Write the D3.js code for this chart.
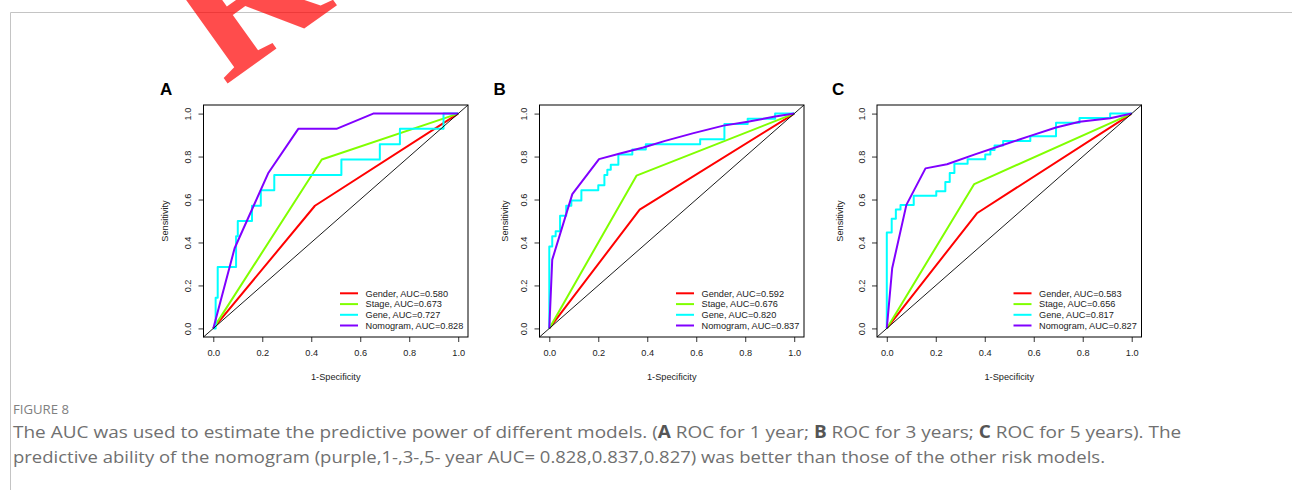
<!DOCTYPE html>
<html><head><meta charset="utf-8">
<script src="https://cdn.jsdelivr.net/npm/d3@7"></script>
<style>
html,body{margin:0;padding:0;background:#fff;}
svg{display:block;}
</style></head><body>
<script>
// ---------- data ----------
const panelLabels = ["A", "B", "C"];
const modelNames = ["Gender", "Stage", "Gene", "Nomogram"];
const modelColors = ["#FF0000", "#80FF00", "#00FFFF", "#8000FF"];
const aucA = [0.580, 0.673, 0.727, 0.828];
const aucB = [0.592, 0.676, 0.820, 0.837];
const aucC = [0.583, 0.656, 0.817, 0.827];
const tickValues = [0, 0.2, 0.4, 0.6, 0.8, 1.0];

// ROC points: [1-Specificity, Sensitivity]
const genderA = [[0,0],[0.415,0.571],[1,1]];
const stageA = [[0,0],[0.443,0.786],[1,1]];
const geneA = [[0,0],[0.0096,0.143],[0.018,0.286],[0.093,0.429],[0.1,0.5],[0.158,0.571],[0.194,0.643],[0.249,0.714],[0.523,0.786],[0.68,0.857],[0.762,0.929],[0.94,1],[1,1]];
const nomogramA = [[0,0],[0.087,0.373],[0.224,0.722],[0.347,0.929],[0.503,0.929],[0.653,1],[1,1]];

const genderB = [[0,0],[0.369,0.553],[1,1]];
const stageB = [[0,0],[0.356,0.711],[1,1]];
const geneB = [[0,0],[0,0.381],[0.012,0.429],[0.026,0.452],[0.044,0.524],[0.069,0.571],[0.09,0.595],[0.131,0.643],[0.2,0.667],[0.225,0.714],[0.237,0.738],[0.251,0.762],[0.282,0.810],[0.339,0.833],[0.394,0.857],[0.616,0.881],[0.715,0.952],[0.81,0.976],[0.922,1],[1,1]];
const nomogramB = [[0,0],[0.012,0.32],[0.094,0.625],[0.203,0.788],[0.285,0.813],[0.384,0.842],[0.473,0.873],[0.589,0.909],[0.711,0.944],[0.81,0.962],[0.922,0.986],[1,1]];

const genderC = [[0,0],[0.368,0.536],[1,1]];
const stageC = [[0,0],[0.357,0.672],[1,1]];
const geneC = [[0,0],[0,0.447],[0.02,0.511],[0.037,0.553],[0.056,0.574],[0.11,0.617],[0.202,0.638],[0.239,0.681],[0.257,0.723],[0.276,0.766],[0.33,0.787],[0.402,0.809],[0.423,0.830],[0.44,0.851],[0.475,0.872],[0.586,0.894],[0.691,0.957],[0.787,0.979],[0.912,1],[1,1]];
const nomogramC = [[0,0],[0.022,0.28],[0.08,0.575],[0.158,0.745],[0.246,0.764],[0.36,0.81],[0.474,0.854],[0.583,0.895],[0.691,0.935],[0.787,0.962],[0.912,0.978],[1,1]];

const panelCurves = [
  [genderA, stageA, geneA, nomogramA],
  [genderB, stageB, geneB, nomogramB],
  [genderC, stageC, geneC, nomogramC]
];
const panelAucs = [aucA, aucB, aucC];

// ---------- layout ----------
const W = 1292, H = 490;
const boxLefts = [203.5, 539.5, 877];
const letterX = [160, 493.5, 832];
const ytitleX = [165, 505, 839.5];
const boxW = 264.5, boxTop = 105, boxH = 232;
const font = "'Liberation Sans', Arial, sans-serif";
const fs = 9.2;

const svg = d3.select("body").append("svg").attr("width", W).attr("height", H);
svg.append("rect").attr("width", W).attr("height", H).attr("fill", "#fff");

// page frame
svg.append("path").attr("d", `M10.5,${H} V12.5 H${W}`).attr("fill", "none")
  .attr("stroke", "#c4c4c4").attr("stroke-width", 1);

panelLabels.forEach((lab, i) => {
  const L = boxLefts[i];
  const x = d3.scaleLinear().domain([-0.04, 1.04]).range([L, L + boxW]);
  const y = d3.scaleLinear().domain([-0.04, 1.04]).range([boxTop + boxH, boxTop]);
  const g = svg.append("g");

  // axes
  const ax = g.append("g").attr("transform", `translate(0,${boxTop + boxH})`)
    .call(d3.axisBottom(x).tickValues(tickValues).tickFormat(d3.format(".1f")).tickSize(5).tickSizeOuter(0));
  ax.select(".domain").remove();
  ax.selectAll("line").attr("stroke", "#000").attr("stroke-width", 0.8);
  ax.selectAll("text").attr("y", 16).attr("dy", "0.35em").attr("font-family", font).attr("font-size", fs).attr("fill", "#222");

  const ay = g.append("g").attr("transform", `translate(${L},0)`)
    .call(d3.axisLeft(y).tickValues(tickValues).tickFormat(d3.format(".1f")).tickSize(5).tickSizeOuter(0));
  ay.select(".domain").remove();
  ay.selectAll("line").attr("stroke", "#000").attr("stroke-width", 0.8);
  ay.selectAll("text").attr("x", null).attr("dy", null)
    .attr("transform", "translate(-15.5,0) rotate(-90)")
    .attr("text-anchor", "middle").attr("dy", "0.35em")
    .attr("font-family", font).attr("font-size", fs).attr("fill", "#222");

  // axis titles
  g.append("text").attr("x", (x(0) + x(1)) / 2).attr("y", 377).attr("dy", "0.35em")
    .attr("text-anchor", "middle").attr("font-family", font).attr("font-size", fs).attr("fill", "#222")
    .text("1-Specificity");
  g.append("text").attr("transform", `translate(${ytitleX[i]},${boxTop + boxH / 2}) rotate(-90)`)
    .attr("dy", "0.35em").attr("text-anchor", "middle")
    .attr("font-family", font).attr("font-size", fs).attr("fill", "#222").text("Sensitivity");

  // panel letter
  g.append("text").attr("x", letterX[i]).attr("y", 94.5).attr("font-family", font)
    .attr("font-weight", "bold").attr("font-size", 17).attr("fill", "#000").text(lab);

  // curves
  const curves = panelCurves[i];
  curves.forEach((pts, k) => {
    const line = d3.line().x(d => x(d[0])).y(d => y(d[1]))
      .curve(k === 2 ? d3.curveStepAfter : d3.curveLinear);
    g.append("path").datum(pts).attr("d", line).attr("fill", "none")
      .attr("stroke", modelColors[k]).attr("stroke-width", 2).attr("stroke-linejoin", "round");
  });

  // diagonal reference
  g.append("path").datum([[-0.04, -0.04], [1.04, 1.04]])
    .attr("d", d3.line().x(d => x(d[0])).y(d => y(d[1])))
    .attr("stroke", "#000").attr("stroke-width", 0.9).attr("fill", "none");

  // box
  g.append("rect").attr("x", L).attr("y", boxTop).attr("width", boxW).attr("height", boxH)
    .attr("fill", "none").attr("stroke", "#000").attr("stroke-width", 1);

  // legend
  const R = L + boxW;
  const legY = [293.3, 304.1, 314.8, 325.5];
  modelNames.forEach((nm, k) => {
    g.append("line").attr("x1", R - 128).attr("x2", R - 110).attr("y1", legY[k]).attr("y2", legY[k])
      .attr("stroke", modelColors[k]).attr("stroke-width", 2);
    g.append("text").attr("x", R - 102.5).attr("y", legY[k]).attr("dy", "0.35em")
      .attr("font-family", font).attr("font-size", fs).attr("fill", "#222")
      .text(`${nm}, AUC=${panelAucs[i][k].toFixed(3)}`);
  });
});

// watermark
svg.append("text").attr("transform", "translate(224,86) rotate(-35.6)")
  .attr("font-family", "'Liberation Serif', 'DejaVu Serif', serif").attr("font-weight", "bold")
  .attr("font-size", 190).attr("fill", "#ff0000").attr("fill-opacity", 0.7).text("R");

// caption
const capFont = "'Open Sans', 'Noto Sans', sans-serif";
const capColor = "#707070";
function fitText(sel, targetW, x0) {
  const w = sel.node().getComputedTextLength();
  const s = targetW / w;
  sel.attr("transform", `translate(${x0},0) scale(${s},1)`);
  return s;
}
const fig = svg.append("text").attr("x", 0).attr("y", 414).attr("font-family", capFont)
  .attr("font-size", 12.5).attr("fill", "#808080").text("FIGURE 8");
fitText(fig, 56, 13);

const l1 = svg.append("text").attr("x", 0).attr("y", 438).attr("font-family", capFont)
  .attr("font-size", 17).attr("fill", capColor);
const parts1 = [["The AUC was used to estimate the predictive power of different models. (", false], ["A", true],
  [" ROC for 1 year; ", false], ["B", true], [" ROC for 3 years; ", false], ["C", true], [" ROC for 5 years). The", false]];
parts1.forEach(([t, b]) => l1.append("tspan").attr("font-weight", b ? "bold" : null).attr("fill", b ? "#555" : null).text(t));
fitText(l1, 1169, 13);

const l2 = svg.append("text").attr("x", 0).attr("y", 463).attr("font-family", capFont)
  .attr("font-size", 17).attr("fill", capColor)
  .text("predictive ability of the nomogram (purple,1-,3-,5- year AUC= 0.828,0.837,0.827) was better than those of the other risk models.");
fitText(l2, 1093, 13);
</script>
</body></html>
